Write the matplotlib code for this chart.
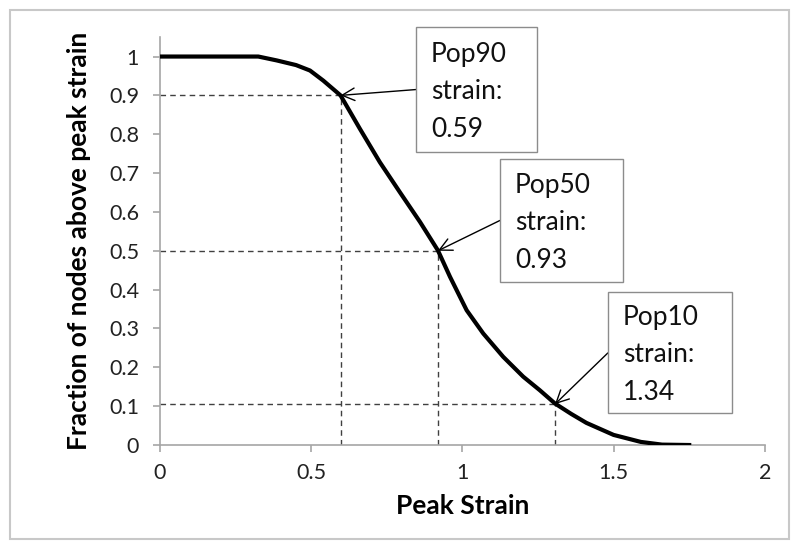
import matplotlib
matplotlib.use("Agg")
import matplotlib.pyplot as plt
from matplotlib.patches import Rectangle

plt.rcParams['font.family'] = ['Lato', 'DejaVu Sans']

# curve
strain = [0, 0.1, 0.2, 0.325, 0.386, 0.45, 0.496, 0.54, 0.597, 0.661, 0.727,
          0.793, 0.86, 0.919, 0.959, 1.014, 1.069, 1.135, 1.201, 1.256, 1.306,
          1.36, 1.41, 1.5, 1.59, 1.66, 1.75]
fraction = [1, 1, 1, 1, 0.99, 0.978, 0.964, 0.938, 0.9, 0.814, 0.728,
            0.651, 0.574, 0.501, 0.433, 0.347, 0.287, 0.227, 0.176, 0.141, 0.107,
            0.08, 0.057, 0.026, 0.008, 0.001, 0.0]

# marked points (x position on chart, fraction, label)
mark_x = [0.597, 0.919, 1.306]
mark_y = [0.9, 0.5, 0.105]
mark_text = ["Pop90\nstrain:\n0.59", "Pop50\nstrain:\n0.93", "Pop10\nstrain:\n1.34"]

fig = plt.figure(figsize=(8, 5.49), dpi=100)
fig.patches.append(Rectangle((10 / 800, 1 - 539 / 549), 779 / 800, 529 / 549,
                             transform=fig.transFigure, fill=False,
                             edgecolor='#c8c8c8', lw=1.5))
ax = fig.add_axes([0.2, 0.1894, 0.756, 0.743])

ax.plot(strain, fraction, color='black', lw=3, solid_joinstyle='round', zorder=3)

for x, y in zip(mark_x, mark_y):
    ax.plot([0, x], [y, y], color='#404040', lw=1, ls=(0, (4, 3)), zorder=2)
    ax.plot([x, x], [0, y], color='#404040', lw=1, ls=(0, (4, 3)), zorder=2)

# label boxes (x0, x1, y0, y1 in data units) and arrow start heights
boxes = [(0.846, 1.246, 0.753, 1.075),
         (1.124, 1.531, 0.419, 0.735),
         (1.481, 1.891, 0.082, 0.393)]
arrow_y = [0.915, 0.578, 0.237]
for (x0, x1, y0, y1), ay, x, y, txt in zip(boxes, arrow_y, mark_x, mark_y, mark_text):
    ax.add_patch(Rectangle((x0, y0), x1 - x0, y1 - y0, fc='white', ec='#8c8c8c',
                           lw=1, clip_on=False, zorder=5))
    ax.text(x0 + 0.05, (y0 + y1) / 2 - 0.005, txt, fontsize=19, linespacing=1.62,
            ha='left', va='center', multialignment='left', color='#111111',
            zorder=6, clip_on=False)
    ax.annotate('', xy=(x, y), xytext=(x0, ay),
                arrowprops=dict(arrowstyle='->,head_length=0.9,head_width=0.45',
                                color='black', lw=1, mutation_scale=10,
                                shrinkA=0, shrinkB=0),
                zorder=4)

ax.set_xlim(0, 2)
ax.set_ylim(0, 1.05)
ax.set_xticks([0, 0.5, 1, 1.5, 2])
ax.set_xticklabels(['0', '0.5', '1', '1.5', '2'])
ax.set_yticks([i / 10 for i in range(11)])
ax.set_yticklabels(['0', '0.1', '0.2', '0.3', '0.4', '0.5', '0.6', '0.7', '0.8', '0.9', '1'])

for s in ['top', 'right']:
    ax.spines[s].set_visible(False)
for s in ['left', 'bottom']:
    ax.spines[s].set_color('#a6a6a6')
    ax.spines[s].set_linewidth(1.2)
ax.tick_params(direction='out', length=5, width=1.2, color='#a6a6a6',
               labelsize=15.5, labelcolor='#222222')
ax.tick_params(axis='y', pad=10)
ax.tick_params(axis='x', pad=8)

ax.set_xlabel('Peak Strain', fontsize=19, fontweight='bold', labelpad=8)
ax.set_ylabel('Fraction of nodes above peak strain', fontsize=19,
              fontweight='bold', labelpad=13)

fig.savefig('out.png', dpi=100)
